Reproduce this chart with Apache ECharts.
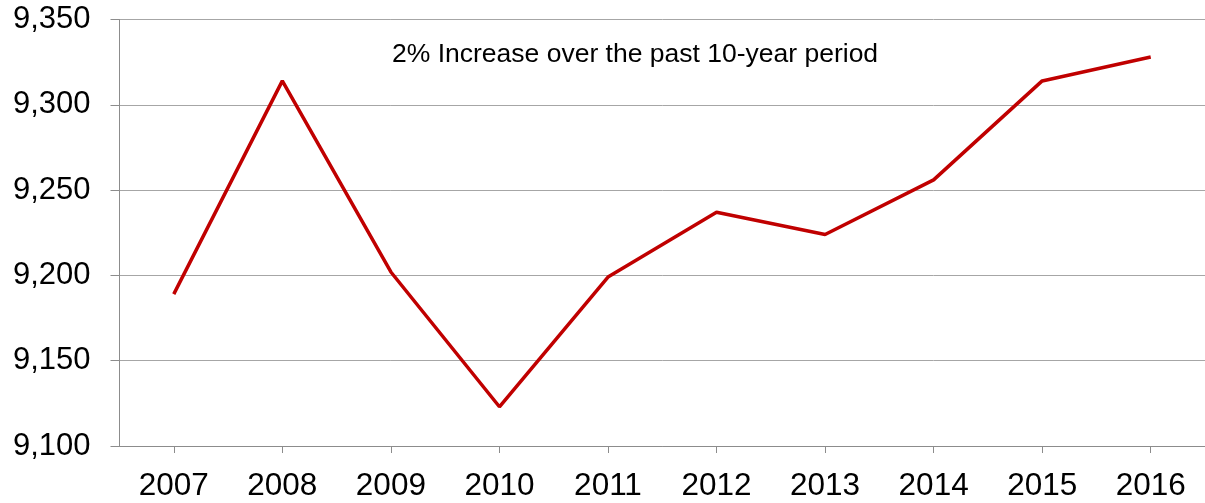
<!DOCTYPE html>
<html><head><meta charset="utf-8">
<script src="https://cdn.jsdelivr.net/npm/echarts@6/dist/echarts.min.js"></script>
<style>html,body{margin:0;padding:0;background:#fff}#c{width:1205px;height:503px}</style>
</head><body><div id="c"></div>
<script>
const years = ['2007','2008','2009','2010','2011','2012','2013','2014','2015','2016'];
const values = [9189, 9314, 9202, 9123, 9199, 9237, 9224, 9256, 9314, 9328];
const yTicks = [9100, 9150, 9200, 9250, 9300, 9350];
const note = '2% Increase over the past 10-year period';

const chart = echarts.init(document.getElementById('c'), null, {renderer:'canvas'});
const font = '"Liberation Sans", Arial, sans-serif';
chart.setOption({
  animation:false,
  grid:{left:119.5, top:19.5, width:1088, height:426.5, containLabel:false},
  xAxis:{type:'category', data:years, boundaryGap:true,
    axisLine:{lineStyle:{color:'#8c8c8c', width:1}},
    axisTick:{show:true, alignWithLabel:true, length:7, lineStyle:{color:'#8c8c8c'}},
    axisLabel:{color:'#000', fontSize:31.5, fontFamily:font, margin:24}},
  yAxis:{type:'value', min:yTicks[0], max:yTicks[yTicks.length-1], interval:50,
    axisLine:{show:true, lineStyle:{color:'#8c8c8c', width:1}},
    axisTick:{show:true, length:9, lineStyle:{color:'#8c8c8c'}},
    splitLine:{lineStyle:{color:'#a6a6a6', width:1}},
    axisLabel:{color:'#000', fontSize:31, fontFamily:font, margin:29,
      formatter:v=>v.toLocaleString('en-US')}},
  series:[{type:'line', data:values, symbol:'none', lineStyle:{color:'#C00000', width:3.5}}],
  graphic:[{type:'text', left:392, top:41, style:{text:note, fontSize:26.5, fontFamily:font, fill:'#000'}}]
});
</script></body></html>
